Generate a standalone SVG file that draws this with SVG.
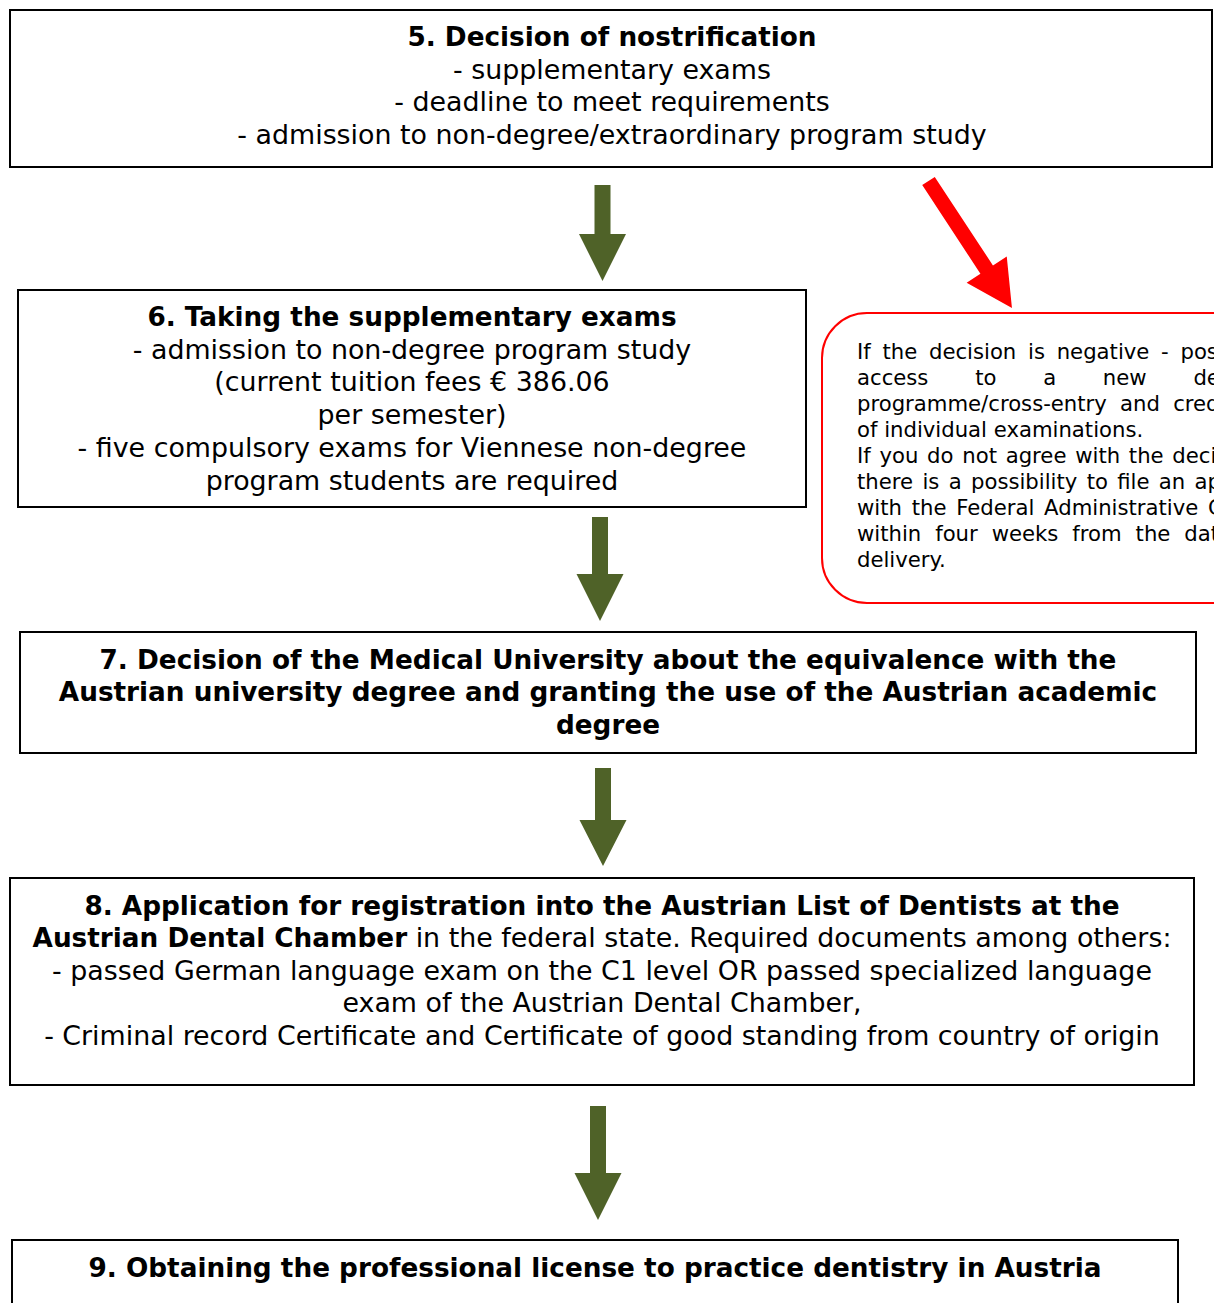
<svg xmlns="http://www.w3.org/2000/svg" width="1214" height="1303" viewBox="0 0 1214 1303">
<style>
  .box { fill: #ffffff; stroke: #000000; stroke-width: 2; }
  .t { font-family: "DejaVu Sans", Verdana, sans-serif; font-size: 26.85px; fill: #000000; text-anchor: middle; }
  .b { font-weight: bold; font-size: 26.3px; }
  .note { font-family: "DejaVu Sans", Verdana, sans-serif; font-size: 21.2px; fill: #000000; }
  .garrow { fill: #4F6228; }
  .rarrow { fill: #FF0000; }
</style>
<defs>
  <clipPath id="page"><rect x="0" y="0" width="1214" height="1303"/></clipPath>
</defs>
<rect x="0" y="0" width="1214" height="1303" fill="#ffffff"/>

<g id="connectors">
  <polygon class="garrow" points="594.5,185 610.5,185 610.5,234 626,234 602.5,281 579,234 594.5,234"/>
  <polygon class="garrow" points="592,517 608,517 608,574 623.5,574 600,621 576.5,574 592,574"/>
  <polygon class="garrow" points="595,768 611,768 611,820 626.5,820 603,866 579.5,820 595,820"/>
  <polygon class="garrow" points="590,1106 606,1106 606,1173 621.5,1173 598,1220 574.5,1173 590,1173"/>
  <polygon class="rarrow" transform="translate(928.5,181) rotate(-33.3)" points="-7.5,0 7.5,0 7.5,106 24,106 0,152 -24,106 -7.5,106"/>
</g>

<g id="node5">
  <rect class="box" x="10" y="10" width="1202" height="157"/>
  <text class="t b" x="612" y="46">5. Decision of nostrification</text>
  <text class="t" x="612" y="79">- supplementary exams</text>
  <text class="t" x="612" y="111">- deadline to meet requirements</text>
  <text class="t" x="612" y="144">- admission to non-degree/extraordinary program study</text>
</g>

<g id="node6">
  <rect class="box" x="18" y="290" width="788" height="217"/>
  <text class="t b" x="412" y="326">6. Taking the supplementary exams</text>
  <text class="t" x="412" y="359">- admission to non-degree program study</text>
  <text class="t" x="412" y="391">(current tuition fees € 386.06</text>
  <text class="t" x="412" y="424">per semester)</text>
  <text class="t" x="412" y="457">- five compulsory exams for Viennese non-degree</text>
  <text class="t" x="412" y="490">program students are required</text>
</g>

<g id="note" clip-path="url(#page)">
  <rect x="822" y="313" width="480" height="290" rx="45" ry="45" fill="#ffffff" stroke="#FF0000" stroke-width="2"/>
  <text class="note" x="857" y="359" word-spacing="5">If the decision is negative - possible</text>
  <text class="note" x="857" y="385" word-spacing="40">access to a new degree</text>
  <text class="note" x="857" y="411" word-spacing="6.5">programme/cross-entry and crediting</text>
  <text class="note" x="857" y="437">of individual examinations.</text>
  <text class="note" x="857" y="463" word-spacing="2">If you do not agree with the decision,</text>
  <text class="note" x="857" y="489" word-spacing="2.6">there is a possibility to file an appeal</text>
  <text class="note" x="857" y="515" word-spacing="3">with the Federal Administrative Court</text>
  <text class="note" x="857" y="541" word-spacing="7.2">within four weeks from the date of</text>
  <text class="note" x="857" y="567">delivery.</text>
</g>

<g id="node7">
  <rect class="box" x="20" y="632" width="1176" height="121"/>
  <text class="t b" x="608" y="669">7. Decision of the Medical University about the equivalence with the</text>
  <text class="t b" x="608" y="701">Austrian university degree and granting the use of the Austrian academic</text>
  <text class="t b" x="608" y="734">degree</text>
</g>

<g id="node8">
  <rect class="box" x="10" y="878" width="1184" height="207"/>
  <text class="t b" x="602" y="915">8. Application for registration into the Austrian List of Dentists at the</text>
  <text class="t" x="602" y="947"><tspan class="b">Austrian Dental Chamber</tspan> in the federal state. Required documents among others:</text>
  <text class="t" x="602" y="980">- passed German language exam on the C1 level OR passed specialized language</text>
  <text class="t" x="602" y="1012">exam of the Austrian Dental Chamber,</text>
  <text class="t" x="602" y="1045">- Criminal record Certificate and Certificate of good standing from country of origin</text>
</g>

<g id="node9">
  <rect class="box" x="12" y="1240" width="1166" height="90"/>
  <text class="t b" x="595" y="1277">9. Obtaining the professional license to practice dentistry in Austria</text>
</g>
</svg>
